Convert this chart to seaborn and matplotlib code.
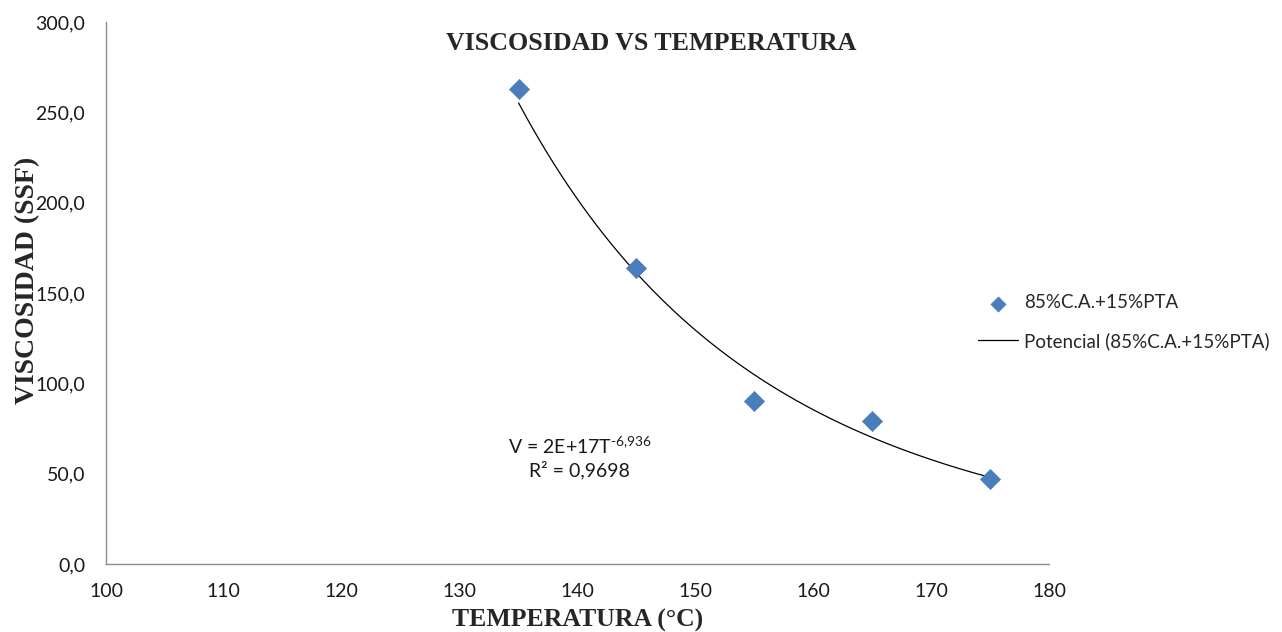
import numpy as np
import pandas as pd
import seaborn as sns
import matplotlib.pyplot as plt
from matplotlib.ticker import FuncFormatter, MultipleLocator

# datos
temperatura = [135, 145, 155, 165, 175]
viscosidad = [262.9, 163.8, 90.2, 79.1, 47.0]
serie = "85%C.A.+15%PTA"
tendencia = "Potencial (85%C.A.+15%PTA)"
ecuacion = r"V = 2E+17T$^{\text{-6,936}}$"
r2 = "R² = 0,9698"

df = pd.DataFrame({"T": temperatura, "V": viscosidad})

# ajuste potencial V = a*T^b
b, loga = np.polyfit(np.log(df["T"]), np.log(df["V"]), 1)
t_fit = np.linspace(min(temperatura), max(temperatura), 200)
curva = pd.DataFrame({"T": t_fit, "V": np.exp(loga) * t_fit ** b})

sns.set_style("white")
plt.rcParams["font.family"] = ["Lato", "DejaVu Sans"]
plt.rcParams["mathtext.fontset"] = "custom"
plt.rcParams["mathtext.rm"] = "Lato"

fig = plt.figure(figsize=(12.82, 6.32), dpi=100)
ax = fig.add_axes([0.0827, 0.1076, 0.7356, 0.8576])

sns.lineplot(data=curva, x="T", y="V", ax=ax, color="black", linewidth=0.9,
             label=tendencia, zorder=2)
sns.scatterplot(data=df, x="T", y="V", ax=ax, marker="D", s=105,
                color="#4A7EBB", edgecolor="#4A7EBB", linewidth=0.5,
                label=serie, zorder=3)

ax.set_xlim(100, 180)
ax.set_ylim(0, 300)
ax.xaxis.set_major_locator(MultipleLocator(10))
ax.yaxis.set_major_locator(MultipleLocator(50))
ax.yaxis.set_major_formatter(FuncFormatter(lambda v, p: f"{v:.1f}".replace(".", ",")))

for s in ["top", "right"]:
    ax.spines[s].set_visible(False)
for s in ["left", "bottom"]:
    ax.spines[s].set_color("#8c8c8c")
    ax.spines[s].set_linewidth(1)
ax.tick_params(axis="both", direction="out", length=6, width=1, color="#8c8c8c",
               labelsize=14, labelcolor="#1a1a1a")
ax.tick_params(axis="y", pad=9)
ax.tick_params(axis="x", pad=8)

ax.set_xlabel("TEMPERATURA (°C)", family="Liberation Serif", fontweight="bold",
              fontsize=18.5)
ax.set_ylabel("VISCOSIDAD (SSF)", family="Liberation Serif", fontweight="bold",
              fontsize=20)
ax.xaxis.set_label_coords(0.5, -0.082)
ax.yaxis.set_label_coords(-0.07, 0.524)

fig.text(0.508, 0.921, "VISCOSIDAD VS TEMPERATURA", family="Liberation Serif",
         fontweight="bold", fontsize=18.7, ha="center", va="baseline")

ax.text(140.2, 65.3, ecuacion, ha="center", va="center", fontsize=14, color="#1a1a1a")
ax.text(140.2, 52.0, r2, ha="center", va="center", fontsize=14, color="#1a1a1a")

handles, labels = ax.get_legend_handles_labels()
order = [labels.index(serie), labels.index(tendencia)]
ax.legend([handles[i] for i in order], [labels[i] for i in order],
          loc="center left", bbox_to_anchor=(0.925, 0.446), frameon=False,
          fontsize=13.5, handlelength=2.13, labelspacing=1.1, handletextpad=0.32,
          borderpad=0, borderaxespad=0, markerscale=0.75)

fig.savefig("out.png", dpi=100)
